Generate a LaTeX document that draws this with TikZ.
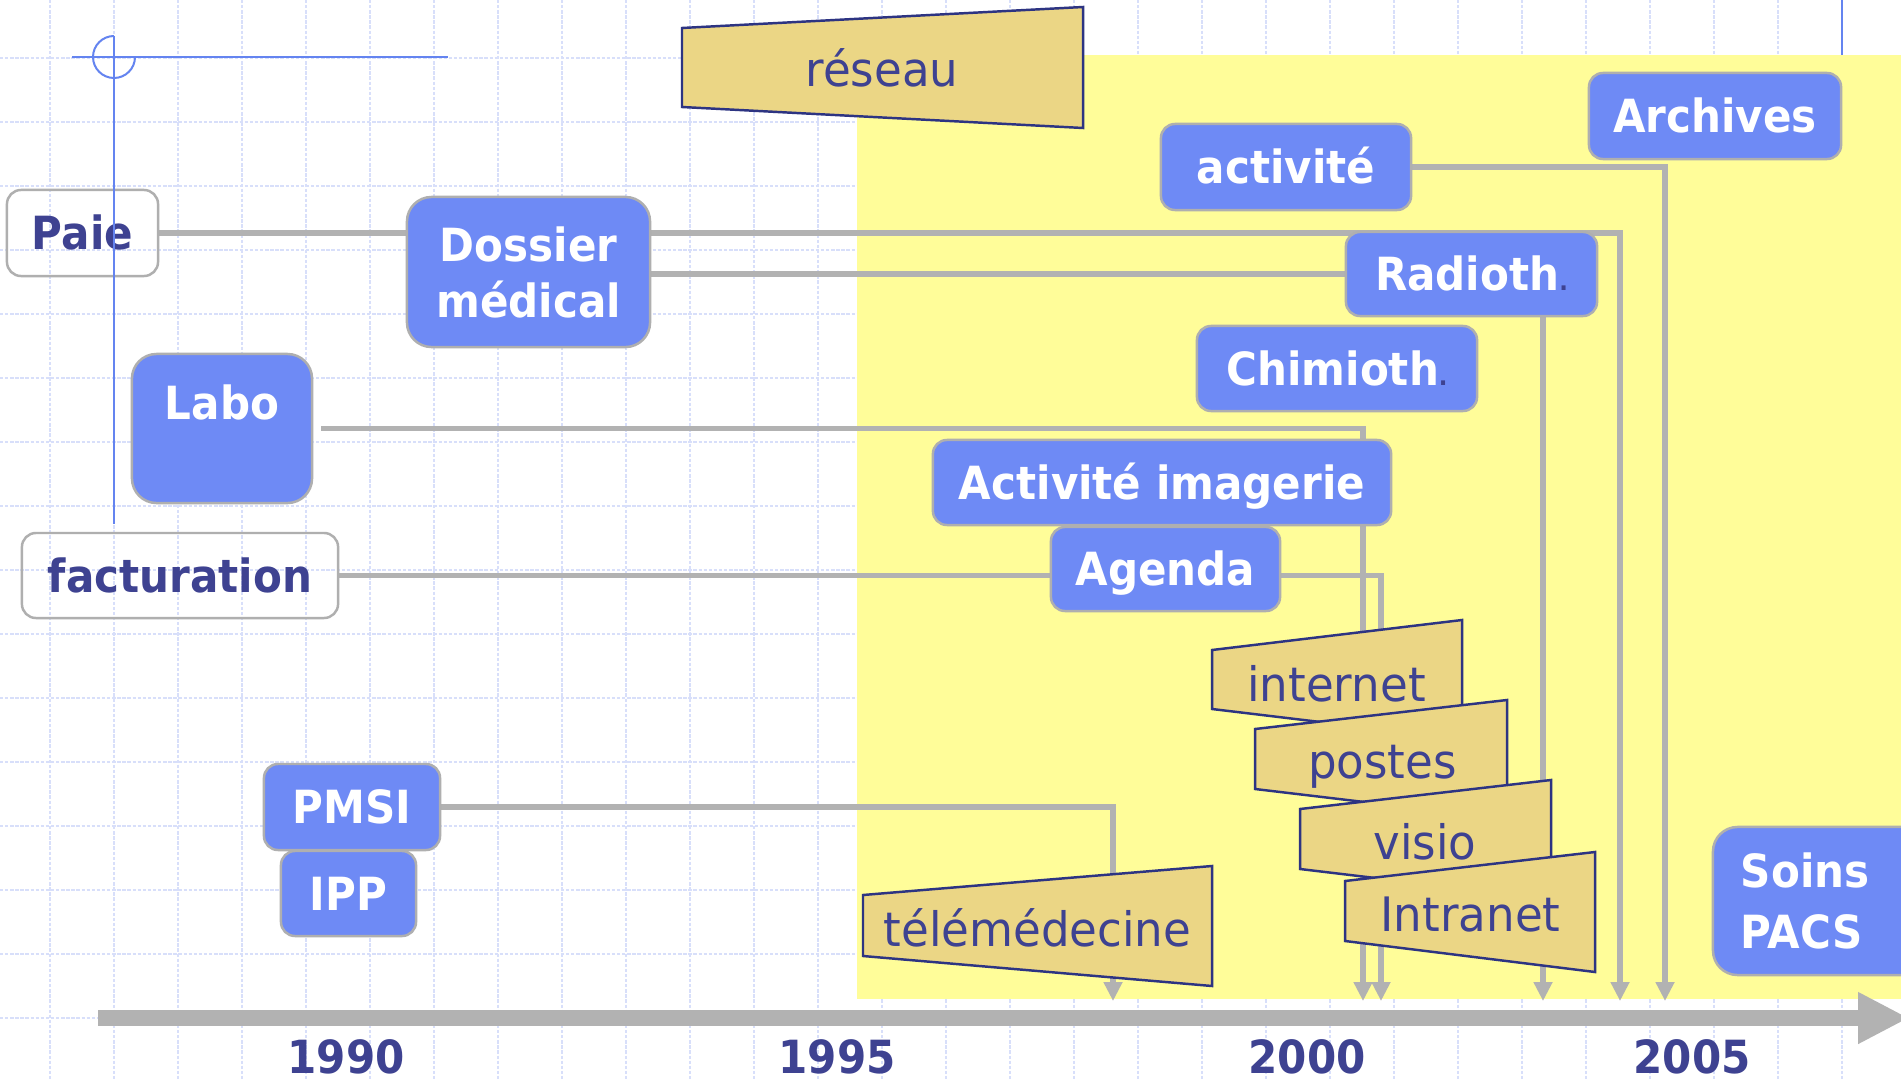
\documentclass[tikz,border=0pt]{standalone}
\usepackage{fontspec}
\usetikzlibrary{arrows.meta}
\newfontfamily\lblfont{DejaVu Sans}[FakeStretch=0.92]
\newfontfamily\trapfont{DejaVu Sans}[FakeStretch=0.95]

\definecolor{gridc}{RGB}{216,223,250}
\definecolor{crossc}{RGB}{100,132,240}
\definecolor{nodeblue}{RGB}{110,138,245}
\definecolor{boxline}{RGB}{175,175,175}
\definecolor{txtdark}{RGB}{62,66,145}
\definecolor{tanfill}{RGB}{235,214,133}
\definecolor{tanline}{RGB}{45,52,130}
\definecolor{yellowc}{RGB}{255,253,153}
\definecolor{connc}{RGB}{178,178,178}

\pgfdeclarelayer{back}
\pgfdeclarelayer{wires}
\pgfsetlayers{back,wires,main}

\begin{document}
\begin{tikzpicture}[x=0.01cm,y=-0.01cm,
  gridline/.style={draw=gridc, line width=0.45pt, dash pattern=on 0.95pt off 0.5pt},
  crossline/.style={draw=crossc, line width=0.57pt},
  boxbase/.style={draw=boxline, line width=0.7pt, inner sep=0pt,
    rounded corners=4pt,
    font=\lblfont\bfseries\fontsize{13pt}{15.9pt}\selectfont},
  bluebox/.style={boxbase, fill=nodeblue, text=white},
  plainbox/.style={boxbase, text=txtdark},
  oneline/.style={text height=9.4pt, text depth=0pt},
  tallbox/.style={rounded corners=7pt},
  trap/.style={fill=tanfill, draw=tanline, line width=0.7pt, line join=miter},
  traptext/.style={anchor=base, text=txtdark, inner sep=0pt,
    font=\trapfont\fontsize{13.5pt}{16pt}\selectfont},
  year/.style={anchor=base, text=txtdark, inner sep=0pt,
    font=\lblfont\bfseries\fontsize{13pt}{16pt}\selectfont},
  conn/.style={draw=connc, line width=1.6pt},
  arr/.style={conn, -{Triangle[length=5.4pt,width=5.1pt]}}
]
\useasboundingbox (0,0) rectangle (1901,1079);

% ---------- background: paper grid and highlighted period ----------
\begin{pgfonlayer}{back}
  \fill[white] (0,0) rectangle (1901,1079);
  \foreach \x in {50,114,...,1906} \draw[gridline] (\x,0) -- (\x,1079);
  \foreach \y in {58,122,...,1082} \draw[gridline] (0,\y) -- (1901,\y);
  \fill[yellowc] (857,55) rectangle (1901,999);
  \coordinate (mark top) at (1842,0);
  \coordinate (mark bot) at (1842,55);
  \draw[crossline] (mark top) -- (mark bot);
\end{pgfonlayer}

% ---------- applications ----------
\node[plainbox, oneline, minimum width=1.51cm, minimum height=0.86cm] (paie) at (82.5,233) {Paie};
\node[bluebox, tallbox, align=center, minimum width=2.43cm, minimum height=1.50cm] (dossier) at (528.5,272) {Dossier\\médical};
\node[bluebox, tallbox, text height=9.4pt, text depth=14.4pt, minimum width=1.80cm, minimum height=1.49cm] (labo) at (222,428.5) {Labo};
\node[plainbox, oneline, minimum width=3.16cm, minimum height=0.85cm] (fact) at (180,575.5) {facturation};
\node[bluebox, oneline, minimum width=1.76cm, minimum height=0.86cm] (pmsi) at (352,807) {PMSI};
\node[bluebox, oneline, minimum width=1.35cm, minimum height=0.85cm] (ipp) at (348.5,893.5) {IPP};
\node[bluebox, oneline, minimum width=2.50cm, minimum height=0.86cm] (activ) at (1286,167) {activité};
\node[bluebox, oneline, minimum width=2.52cm, minimum height=0.86cm] (arch) at (1715,116) {Archives};
\node[bluebox, oneline, minimum width=2.51cm, minimum height=0.84cm] (radio) at (1471.5,274) {Radioth{\color{txtdark}\fontsize{7pt}{7pt}\selectfont.}};
\node[bluebox, oneline, minimum width=2.80cm, minimum height=0.85cm] (chimio) at (1337,368.5) {Chimioth{\color{txtdark}\fontsize{7pt}{7pt}\selectfont.}};
\node[bluebox, oneline, minimum width=4.58cm, minimum height=0.85cm] (actimg) at (1162,482.5) {Activité imagerie};
\node[bluebox, oneline, minimum width=2.29cm, minimum height=0.84cm] (agenda) at (1165.5,569) {Agenda};
\node[bluebox, tallbox, align=left, text width=1.91cm, font=\lblfont\bfseries\fontsize{13pt}{17.35pt}\selectfont,
      minimum width=2.47cm, minimum height=1.48cm] (soins) at (1836.5,901) {Soins\\PACS};

% ---------- crosshair ----------
\coordinate (chL) at (72,57);
\coordinate (chR) at (448,57);
\coordinate (chT) at (114,36);
\coordinate (chB) at (114,524);
\draw[crossline] (chL) -- (chR);
\draw[crossline] (chT) -- (chB);
\draw[crossline] (chT) arc[start angle=90, end angle=360, radius=5.97pt];

% ---------- network layers ----------
\draw[trap] (682,28) -- (1083,7) -- (1083,128) -- (682,107) -- cycle;
\node[traptext] (reseau) at (882,87) {réseau};
\draw[trap] (863,895) -- (1212,866) -- (1212,986) -- (863,956) -- cycle;
\node[traptext] (telemed) at (1037.5,946) {télémédecine};
\draw[trap] (1212,650) -- (1462,620) -- (1462,739) -- (1212,709) -- cycle;
\node[traptext] (internet) at (1336.5,701) {internet};
\draw[trap] (1255,729) -- (1507,700) -- (1507,819) -- (1255,789) -- cycle;
\node[traptext] (postes) at (1382.5,778) {postes};
\draw[trap] (1300,809) -- (1551,780) -- (1551,899) -- (1300,869) -- cycle;
\node[traptext] (visio) at (1425,859) {visio};
\draw[trap] (1345,881) -- (1595,852) -- (1595,972) -- (1345,941) -- cycle;
\node[traptext] (intranet) at (1470.5,931) {Intranet};

% ---------- time axis ----------
\coordinate (axL) at (98,1018);
\coordinate (axR) at (1909,1018);
\begin{pgfonlayer}{wires}
  \draw[draw=connc, line width=4.55pt, -{Triangle[length=14.5pt,width=13.7pt]}] (axL) -- (axR);
\end{pgfonlayer}
\node[year] (y1990) at (346,1073) {1990};
\node[year] (y1995) at (837,1073) {1995};
\node[year] (y2000) at (1307,1073) {2000};
\node[year] (y2005) at (1692,1073) {2005};

% ---------- links down to the axis ----------
\coordinate (a1) at (1620,1001);
\coordinate (a2) at (1363,1001);
\coordinate (a3) at (1381,1001);
\coordinate (a4) at (1113,1001);
\coordinate (a5) at (1665,1001);
\coordinate (a6) at (1543,1001);
\begin{pgfonlayer}{wires}
  \draw[arr] (paie.east) -| (a1);
  \draw[conn] (dossier.east |- radio.west) -- (radio.west);
  \draw[arr] ([xshift=0.08cm]labo.east) -| (a2);
  \draw[arr] (fact.east) -| (a3);
  \draw[arr] (pmsi.east) -| (a4);
  \draw[arr] (activ.east) -| (a5);
  \draw[arr] (radio.south -| a6) -- (a6);
\end{pgfonlayer}
\end{tikzpicture}
\end{document}
